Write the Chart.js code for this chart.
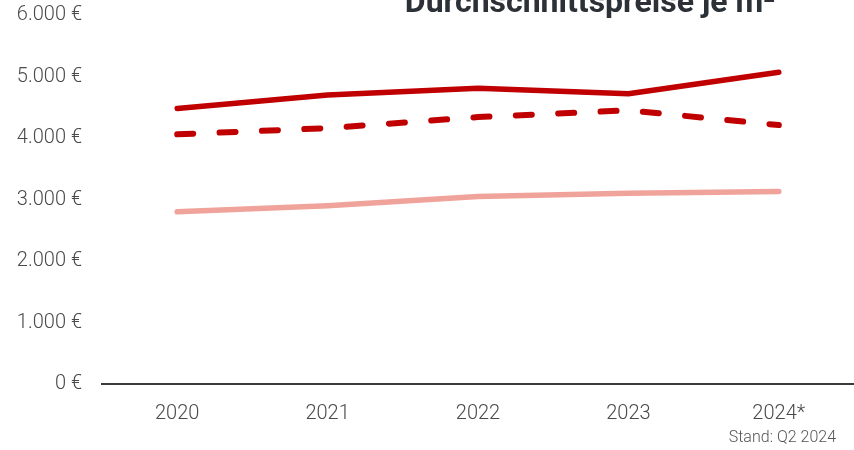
<!DOCTYPE html>
<html>
<head>
<meta charset="utf-8">
<script src="https://cdn.jsdelivr.net/npm/chart.js@4.4.1/dist/chart.umd.min.js"></script>
<style>
    html, body { margin: 0; padding: 0; background: #ffffff; }
    #wrap { width: 854px; height: 450px; position: relative; }
</style>
</head>
<body>
<div id="wrap"><canvas id="chart"></canvas></div>
<script>
// Data
const years = ['2020', '2021', '2022', '2023', '2024*'];
const seriesSolid = [4480, 4700, 4810, 4720, 5070];
const seriesDashed = [4060, 4160, 4340, 4450, 4210];
const seriesLight = [2800, 2900, 3050, 3100, 3130];
const yTicks = [0, 1000, 2000, 3000, 4000, 5000, 6000];

const titleText = 'Durchschnittspreise je m²';
const footText = 'Stand: Q2 2024';

// Format as German number with euro sign
function euro(v) {
    return String(v).replace(/\B(?=(\d{3})+(?!\d))/g, '.') + ' €';
}

// Title (cut at top) and source note
const textPlugin = {
    id: 'texts',
    afterDraw(chart) {
        const ctx = chart.ctx;
        ctx.save();
        ctx.fillStyle = '#2b3137';
        ctx.font = 'bold 32px Roboto';
        ctx.textAlign = 'center';
        ctx.textBaseline = 'alphabetic';
        ctx.fillText(titleText, 590, 12);
        ctx.fillStyle = '#555555';
        ctx.font = '300 16px Roboto';
        ctx.textAlign = 'right';
        ctx.textBaseline = 'middle';
        ctx.fillText(footText, 836, 438);
        ctx.restore();
    }
};

const ctx = document.getElementById('chart').getContext('2d');

new Chart(ctx, {
    type: 'line',
    data: {
        labels: years,
        datasets: [
            {
                label: 'solid',
                data: seriesSolid,
                borderColor: '#c00000',
                borderWidth: 5.5,
                borderCapStyle: 'round',
                borderJoinStyle: 'round',
                pointRadius: 0,
                tension: 0
            },
            {
                label: 'dashed',
                data: seriesDashed,
                borderColor: '#c00000',
                borderWidth: 6,
                borderDash: [16, 26.4],
                borderCapStyle: 'round',
                pointRadius: 0,
                tension: 0
            },
            {
                label: 'light',
                data: seriesLight,
                borderColor: '#f0a39b',
                borderWidth: 5.5,
                borderCapStyle: 'round',
                borderJoinStyle: 'round',
                pointRadius: 0,
                tension: 0
            }
        ]
    },
    options: {
        responsive: true,
        maintainAspectRatio: false,
        animation: false,
        layout: { padding: { top: 15, right: -5, bottom: 0, left: 0 } },
        plugins: {
            legend: { display: false },
            tooltip: { enabled: false },
            title: { display: false }
        },
        scales: {
            x: {
                offset: true,
                grid: { display: false },
                border: { display: true, color: '#3a3a3a', width: 2 },
                afterFit(scale) {
                    scale.height = 66;
                    scale.paddingLeft = 0;
                    scale.paddingRight = 0;
                },
                ticks: {
                    color: '#4a4a4a',
                    font: { family: 'Roboto', size: 20, weight: '300' },
                    padding: 10,
                    maxRotation: 0
                }
            },
            y: {
                min: 0,
                max: 6000,
                afterBuildTicks(scale) {
                    scale.ticks = yTicks.map(v => ({ value: v }));
                },
                afterFit(scale) {
                    scale.width = 102;
                    scale.paddingTop = 0;
                    scale.paddingBottom = 0;
                },
                grid: { display: false },
                border: { display: false },
                ticks: {
                    color: '#4a4a4a',
                    font: { family: 'Roboto', size: 20, weight: '300' },
                    padding: 12,
                    callback: (v) => euro(v)
                }
            }
        }
    },
    plugins: [textPlugin]
});
</script>
</body>
</html>
